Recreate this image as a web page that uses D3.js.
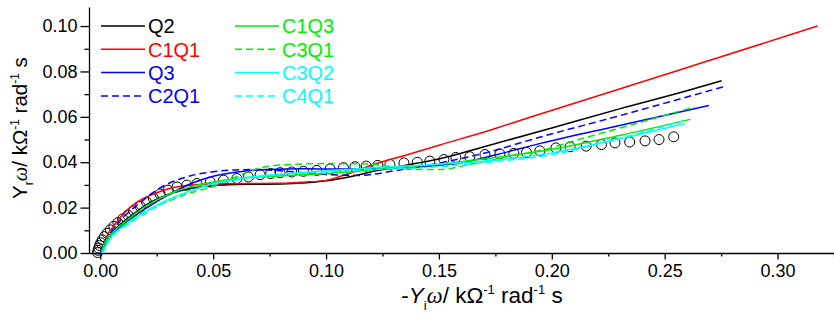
<!DOCTYPE html>
<html>
<head>
<meta charset="utf-8">
<script src="https://cdn.jsdelivr.net/npm/d3@7"></script>
<style>
  body { margin: 0; background: #fff; }
  svg { display: block; font-family: "Liberation Sans", Arial, sans-serif; }
</style>
</head>
<body>
<div id="chart"></div>
<script>
// measured points (-Yi*w, Yr*w)
const measured = [
    [-0.0012, 0.0002], [-0.001, 0.0012], [-0.0007, 0.0022], [-0.0003, 0.0033], [0.0002, 0.0045],
    [0.0009, 0.0058], [0.0018, 0.0072], [0.003, 0.0087], [0.0044, 0.0102], [0.006, 0.0118],
    [0.0078, 0.0134], [0.0099, 0.015], [0.0122, 0.0167], [0.0148, 0.0185], [0.0177, 0.0205],
    [0.0205, 0.0224], [0.0235, 0.0242], [0.0265, 0.026], [0.03, 0.0277], [0.034, 0.0291],
    [0.0383, 0.0299], [0.0428, 0.0306], [0.0487, 0.0313], [0.0546, 0.0321], [0.0605, 0.0328],
    [0.0656, 0.0335], [0.0708, 0.0345], [0.0755, 0.035], [0.0796, 0.0354], [0.0848, 0.0357],
    [0.09, 0.036], [0.0959, 0.0364], [0.1018, 0.037], [0.1077, 0.0376], [0.1128, 0.038],
    [0.1178, 0.0383], [0.1229, 0.0386], [0.1283, 0.039], [0.1345, 0.0397], [0.1404, 0.04],
    [0.146, 0.0405], [0.1522, 0.0412], [0.1575, 0.0421], [0.1637, 0.0424], [0.1704, 0.0434],
    [0.177, 0.0436], [0.1832, 0.0439], [0.1888, 0.0443], [0.1947, 0.045], [0.2018, 0.0463],
    [0.2081, 0.0468], [0.2152, 0.0471], [0.222, 0.0478], [0.228, 0.0485], [0.2345, 0.0489],
    [0.2413, 0.0494], [0.2475, 0.05], [0.254, 0.0512]
];

const q2 = [
    [0, 0], [0.002, 0.004], [0.005, 0.0085], [0.01, 0.0135], [0.015, 0.0175], [0.02, 0.021],
    [0.03, 0.0258], [0.04, 0.0284], [0.05, 0.0297], [0.065, 0.0303], [0.08, 0.0304], [0.09, 0.0308],
    [0.1, 0.0318], [0.11, 0.0335], [0.122, 0.0362], [0.14, 0.0395], [0.15, 0.0414], [0.17, 0.0468],
    [0.2, 0.0551], [0.23, 0.0635], [0.261, 0.0718], [0.2752, 0.0759]
];
const c1q1 = [
    [0, 0], [0.0015, 0.0038], [0.0035, 0.0085], [0.006, 0.012], [0.0094, 0.0163], [0.013, 0.02],
    [0.0168, 0.0228], [0.0242, 0.0262], [0.031, 0.0285], [0.04, 0.0299], [0.05, 0.0305], [0.065, 0.0306],
    [0.08, 0.0307], [0.09, 0.0312], [0.1, 0.032], [0.106, 0.0337], [0.112, 0.0357], [0.121, 0.039],
    [0.136, 0.0433], [0.15, 0.0475], [0.1726, 0.0541], [0.19, 0.0597], [0.2286, 0.0718], [0.27, 0.0849],
    [0.3177, 0.1]
];
const q3 = [
    [0.0005, 0], [0.002, 0.004], [0.005, 0.008], [0.01, 0.0125], [0.02, 0.0195], [0.03, 0.0255],
    [0.04, 0.0305], [0.05, 0.0338], [0.06, 0.0356], [0.074, 0.0368], [0.09, 0.0371], [0.105, 0.037],
    [0.12, 0.0372], [0.143, 0.0381], [0.16, 0.0398], [0.175, 0.0432], [0.195, 0.0483], [0.23, 0.0562],
    [0.2696, 0.065]
];
const c2q1 = [
    [0, 0], [0.002, 0.005], [0.005, 0.0095], [0.01, 0.0155], [0.015, 0.02], [0.02, 0.024],
    [0.025, 0.0278], [0.03, 0.0305], [0.04, 0.034], [0.05, 0.0358], [0.06, 0.0366], [0.07, 0.0368],
    [0.08, 0.0362], [0.09, 0.0354], [0.1, 0.0346], [0.115, 0.0342], [0.13, 0.0362], [0.15, 0.0396],
    [0.175, 0.0453], [0.19, 0.0497], [0.23, 0.0605], [0.2773, 0.0736]
];
const c1q3 = [
    [0.0005, 0], [0.002, 0.0045], [0.005, 0.0085], [0.01, 0.013], [0.02, 0.0205], [0.03, 0.0258],
    [0.04, 0.0292], [0.05, 0.0313], [0.06, 0.0328], [0.075, 0.0338], [0.09, 0.0345], [0.11, 0.0357],
    [0.13, 0.0375], [0.15, 0.0392], [0.177, 0.0424], [0.195, 0.0448], [0.23, 0.0518], [0.2614, 0.0589]
];
const c3q1 = [
    [0.0005, 0], [0.003, 0.005], [0.007, 0.009], [0.012, 0.0135], [0.02, 0.0185], [0.03, 0.0228],
    [0.04, 0.0265], [0.05, 0.0293], [0.06, 0.0335], [0.07, 0.0372], [0.08, 0.0388], [0.1, 0.0394],
    [0.115, 0.0393], [0.125, 0.0387], [0.136, 0.0369], [0.15, 0.0368], [0.165, 0.0393], [0.18, 0.0424],
    [0.195, 0.0452], [0.2137, 0.0505], [0.24, 0.0578], [0.2633, 0.0644]
];
const c3q2 = [
    [0.001, 0], [0.003, 0.0045], [0.006, 0.0085], [0.01, 0.0115], [0.02, 0.0182], [0.03, 0.0235],
    [0.04, 0.0275], [0.05, 0.0305], [0.06, 0.0325], [0.08, 0.0348], [0.1, 0.0362], [0.12, 0.0375],
    [0.155, 0.0394], [0.177, 0.0411], [0.199, 0.0439], [0.23, 0.0503], [0.2589, 0.0571]
];
const c4q1 = [
    [0.001, 0], [0.003, 0.004], [0.006, 0.008], [0.01, 0.011], [0.02, 0.0175], [0.03, 0.023],
    [0.04, 0.0272], [0.05, 0.0302], [0.06, 0.0322], [0.08, 0.0346], [0.1, 0.0358], [0.12, 0.0368],
    [0.15, 0.038], [0.177, 0.0405], [0.199, 0.0432], [0.23, 0.0505], [0.258, 0.0582]
];

const seriesNames = ['Q2', 'C1Q1', 'Q3', 'C2Q1', 'C1Q3', 'C3Q1', 'C3Q2', 'C4Q1'];
const seriesData = [q2, c1q1, q3, c2q1, c1q3, c3q1, c3q2, c4q1];
const seriesColors = ['#000000', '#ff0000', '#0000ff', '#0000ff', '#00ee00', '#00ee00', '#00ffff', '#00ffff'];
const seriesDashed = [false, false, false, true, false, true, false, true];

const xTicks = [0, 0.05, 0.1, 0.15, 0.2, 0.25, 0.3];
const yTicks = [0, 0.02, 0.04, 0.06, 0.08, 0.1];

const width = 834, height = 322;
const svg = d3.select('#chart').append('svg')
    .attr('width', width)
    .attr('height', height);

const x = d3.scaleLinear().domain([-0.005, 0.325]).range([89, 834]);
const y = d3.scaleLinear().domain([0, 0.1084]).range([253, 7]);

// minor ticks first, then major axes on top
svg.append('g')
    .attr('transform', `translate(0,${y(0)})`)
    .call(d3.axisBottom(x).tickValues(d3.range(0.025, 0.33, 0.05)).tickSize(3.5).tickFormat(''))
    .call(g => g.select('.domain').remove());
svg.append('g')
    .attr('transform', `translate(${x(-0.005)},0)`)
    .call(d3.axisLeft(y).tickValues(d3.range(0.01, 0.105, 0.02)).tickSize(4.5).tickFormat(''))
    .call(g => g.select('.domain').remove());

const xAxis = svg.append('g')
    .attr('transform', `translate(0,${y(0)})`)
    .call(d3.axisBottom(x).tickValues(xTicks).tickSize(6.5).tickSizeOuter(0).tickPadding(5)
        .tickFormat(d3.format('.2f')));
const yAxis = svg.append('g')
    .attr('transform', `translate(${x(-0.005)},0)`)
    .call(d3.axisLeft(y).tickValues(yTicks).tickSize(8.5).tickSizeOuter(0).tickPadding(3)
        .tickFormat(d3.format('.2f')));

svg.selectAll('.domain, .tick line').attr('stroke', '#000').attr('stroke-width', 1.3);
[xAxis, yAxis].forEach(g => g.selectAll('text')
    .attr('font-size', 18)
    .attr('font-family', '"Liberation Sans", Arial, sans-serif')
    .attr('fill', '#000'));
xAxis.selectAll('text').attr('dy', '0.72em');

// measured circles
svg.append('g')
    .selectAll('circle')
    .data(measured)
    .join('circle')
    .attr('cx', d => x(d[0]))
    .attr('cy', d => y(d[1]))
    .attr('r', 5)
    .attr('fill', 'none')
    .attr('stroke', '#000')
    .attr('stroke-width', 1);

const line = d3.line()
    .x(d => x(d[0]))
    .y(d => y(d[1]))
    .curve(d3.curveMonotoneX);

seriesData.forEach((data, i) => {
    svg.append('path')
        .attr('d', line(data))
        .attr('fill', 'none')
        .attr('stroke', seriesColors[i])
        .attr('stroke-width', 1.5)
        .attr('stroke-dasharray', seriesDashed[i] ? '7,4' : null);
});

// legend, two columns of four
const legend = svg.append('g');
seriesNames.forEach((name, i) => {
    const col = Math.floor(i / 4), row = i % 4;
    const lx = 101 + col * 134, ly = 26 + row * 23.3;
    legend.append('line')
        .attr('x1', lx).attr('x2', lx + 44)
        .attr('y1', ly).attr('y2', ly)
        .attr('stroke', seriesColors[i])
        .attr('stroke-width', 1.5)
        .attr('stroke-dasharray', seriesDashed[i] ? '7,4' : null);
    legend.append('text')
        .attr('x', lx + 47).attr('y', ly)
        .attr('dy', '0.36em')
        .attr('font-size', 20)
        .attr('fill', seriesColors[i])
        .text(name);
});

// axis titles
const yTitle = svg.append('text')
    .attr('transform', 'translate(27,128) rotate(-90)')
    .attr('text-anchor', 'middle')
    .attr('font-size', 20.5);
yTitle.append('tspan').text('Y');
yTitle.append('tspan').attr('font-size', 12).attr('dy', 6).text('r');
yTitle.append('tspan').attr('dy', -6).attr('font-family', '"Liberation Serif", serif')
    .attr('font-style', 'italic').text('ω');
yTitle.append('tspan').text('/ kΩ');
yTitle.append('tspan').attr('font-size', 12).attr('dy', -8).text('-1');
yTitle.append('tspan').attr('dy', 8).text(' rad');
yTitle.append('tspan').attr('font-size', 12).attr('dy', -8).text('-1');
yTitle.append('tspan').attr('dy', 8).text(' s');

const xTitle = svg.append('text')
    .attr('x', 482).attr('y', 303)
    .attr('text-anchor', 'middle')
    .attr('font-size', 22.5);
xTitle.append('tspan').text('-');
xTitle.append('tspan').attr('font-style', 'italic').text('Y');
xTitle.append('tspan').attr('font-size', 13).attr('dy', 7).text('i');
xTitle.append('tspan').attr('dy', -7).attr('font-family', '"Liberation Serif", serif')
    .attr('font-style', 'italic').text('ω');
xTitle.append('tspan').text('/ kΩ');
xTitle.append('tspan').attr('font-size', 13).attr('dy', -9).text('-1');
xTitle.append('tspan').attr('dy', 9).text(' rad');
xTitle.append('tspan').attr('font-size', 13).attr('dy', -9).text('-1');
xTitle.append('tspan').attr('dy', 9).text(' s');
</script>
</body>
</html>
